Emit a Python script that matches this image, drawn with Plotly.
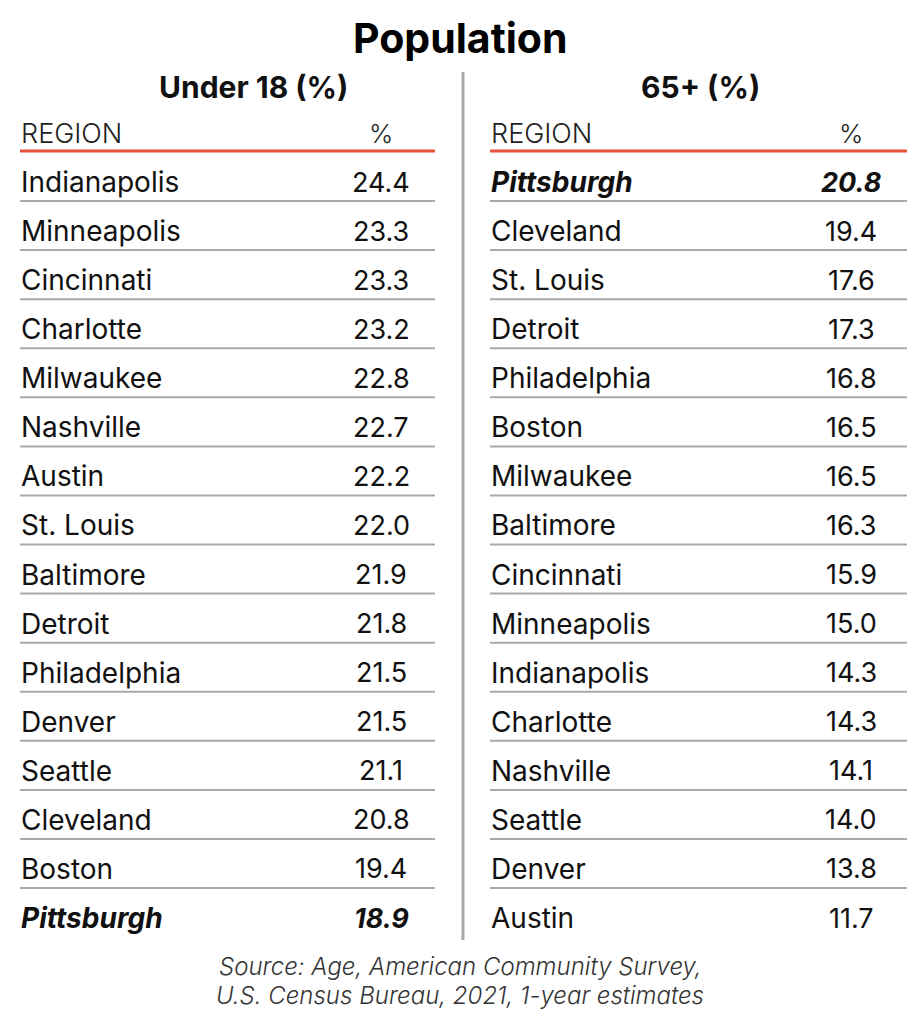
import plotly.graph_objects as go

title = "Population"
left_title = "Under 18 (%)"
right_title = "65+ (%)"
col_region = "REGION"
col_pct = "%"
source_lines = ["Source: Age, American Community Survey,", "U.S. Census Bureau, 2021, 1-year estimates"]

under18_regions = ["Indianapolis", "Minneapolis", "Cincinnati", "Charlotte", "Milwaukee", "Nashville",
                   "Austin", "St. Louis", "Baltimore", "Detroit", "Philadelphia", "Denver", "Seattle",
                   "Cleveland", "Boston", "Pittsburgh"]
under18_values = [24.4, 23.3, 23.3, 23.2, 22.8, 22.7, 22.2, 22.0, 21.9, 21.8, 21.5, 21.5, 21.1, 20.8, 19.4, 18.9]

over65_regions = ["Pittsburgh", "Cleveland", "St. Louis", "Detroit", "Philadelphia", "Boston", "Milwaukee",
                  "Baltimore", "Cincinnati", "Minneapolis", "Indianapolis", "Charlotte", "Nashville",
                  "Seattle", "Denver", "Austin"]
over65_values = [20.8, 19.4, 17.6, 17.3, 16.8, 16.5, 16.5, 16.3, 15.9, 15.0, 14.3, 14.3, 14.1, 14.0, 13.8, 11.7]

highlight = "Pittsburgh"

FONT = "Inter"
W, H = 920, 1024
OFF = 8  # browser body margin
ROW0 = 182
PITCH = 49.07

fig = go.Figure()
shapes = []
ann = []

def add_table(x0, x1, xval, sub_x, sub_title, regions, values):
    ann.append(dict(x=sub_x, y=87, text=f"<b>{sub_title}</b>", showarrow=False,
                    font=dict(family=FONT, size=30, color="#111"), xanchor="center", yanchor="middle"))
    ann.append(dict(x=x0 - 2, y=133, text=col_region, showarrow=False,
                    font=dict(family=FONT, size=27, color="#222", weight=300), xanchor="left", yanchor="middle"))
    ann.append(dict(x=xval, y=133, text=col_pct, showarrow=False,
                    font=dict(family=FONT, size=26, color="#222", weight=300), xanchor="center", yanchor="middle"))
    shapes.append(dict(type="line", x0=x0 - 1, x1=x1, y0=151, y1=151, xref="x", yref="y",
                       line=dict(color="#e5533d", width=3)))
    n = len(regions)
    for i, (r, v) in enumerate(zip(regions, values)):
        y = ROW0 + i * PITCH
        if r == highlight:
            rt, vt = f"<b><i>{r}</i></b>", f"<b><i>{v:.1f}</i></b>"
        else:
            rt, vt = r, f"{v:.1f}"
        ann.append(dict(x=x0 - 2, y=y, text=rt, showarrow=False,
                        font=dict(family=FONT, size=28, color="#111"), xanchor="left", yanchor="middle"))
        ann.append(dict(x=xval, y=y, text=vt, showarrow=False,
                        font=dict(family=FONT, size=27, color="#111"), xanchor="center", yanchor="middle"))
        if i < n - 1:
            ly = y + PITCH / 2 - 5.5
            shapes.append(dict(type="line", x0=x0 - 1, x1=x1, y0=ly, y1=ly, xref="x", yref="y",
                               line=dict(color="#aaaaaa", width=2)))

add_table(21, 435, 381, 253, left_title, under18_regions, under18_values)
add_table(491, 907, 851, 700, right_title, over65_regions, over65_values)

shapes.append(dict(type="line", x0=463, x1=463, y0=72, y1=940, xref="x", yref="y",
                   line=dict(color="#a8a8a8", width=3)))

ann.append(dict(x=460, y=38, text=f"<b>{title}</b>", showarrow=False,
                font=dict(family=FONT, size=41, color="#000", weight=900), xanchor="center", yanchor="middle"))
for k, line in enumerate(source_lines):
    ann.append(dict(x=460, y=966 + k * 29, text=f"<i>{line}</i>", showarrow=False,
                    font=dict(family=FONT, size=24, color="#333", weight=300), xanchor="center", yanchor="middle"))

fig.update_layout(
    width=W, height=H, margin=dict(l=0, r=0, t=0, b=0),
    paper_bgcolor="white", plot_bgcolor="white",
    xaxis=dict(range=[OFF, W + OFF], visible=False, fixedrange=True),
    yaxis=dict(range=[H + OFF, OFF], visible=False, fixedrange=True),
    shapes=shapes, annotations=ann, showlegend=False,
)
fig.write_html("out.html")
